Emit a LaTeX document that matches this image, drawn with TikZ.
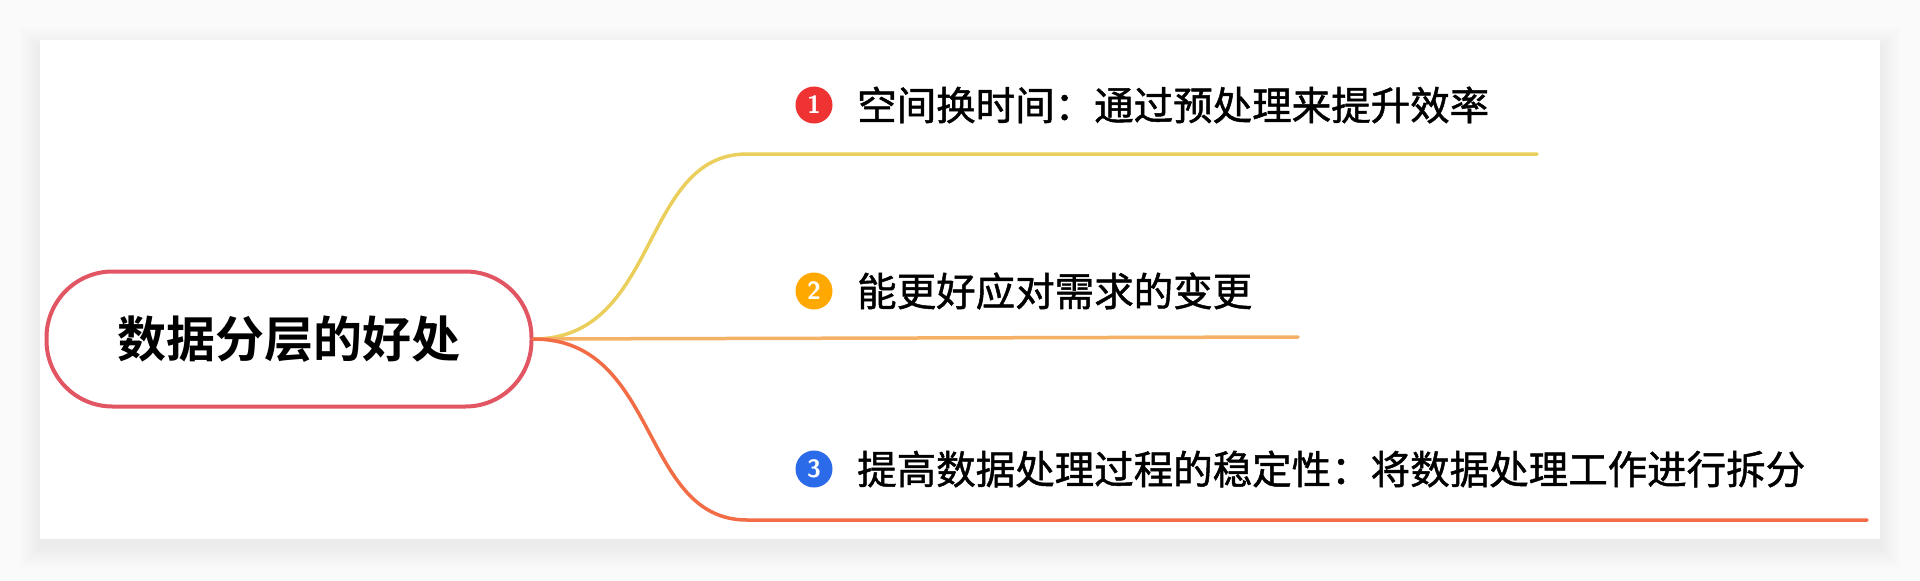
\documentclass[tikz,border=0pt]{standalone}
\usepackage{fontspec}
\newfontfamily\cjk[FakeBold=1.2]{Noto Sans CJK SC}
\newfontfamily\cjkb{Noto Sans CJK SC Bold}
\begin{document}
\begin{tikzpicture}[x=1pt,y=-1pt,
  lbl/.style={anchor=west,inner sep=0pt,font=\cjk\fontsize{39.5}{44}\selectfont},
  icon/.style={circle,inner sep=0pt,minimum size=37pt,text=white,font=\sffamily\bfseries\fontsize{25}{26}\selectfont},
  br/.style={line width=3.5pt,line cap=round}]
\definecolor{bgc}{HTML}{FAFAFA}
\definecolor{rootc}{HTML}{E25563}
\definecolor{yl}{HTML}{EBCF5C}
\definecolor{og}{HTML}{F5B266}
\definecolor{rd}{HTML}{F26D45}
\definecolor{ic1}{HTML}{EF3232}
\definecolor{ic2}{HTML}{FFA800}
\definecolor{ic3}{HTML}{2B6BEA}
\fill[bgc] (0,0) rectangle (1920,581);
\useasboundingbox (0,0) rectangle (1920,581);
\foreach \i in {20,17,...,2}{
  \fill[black,opacity=0.006] (40-\i,40-\i+8) rectangle (1880+\i,539+\i+8);}
\fill[white] (40,40) rectangle (1880,539);
\node[draw=rootc,line width=4pt,rounded corners=66pt,minimum width=485pt,minimum height=135pt,
  font=\cjkb\fontsize{49}{52}\selectfont] (root) at (289,339) {数据分层的好处};
\coordinate (e1) at (1537,154);
\coordinate (e2) at (1298,337);
\coordinate (e3) at (1867,520);
\coordinate (s1) at (747,154);
\coordinate (s3) at (747,520);
\draw[br,yl] (root.east) .. controls (660,339) and (640,154) .. (s1) -- (e1);
\draw[br,og] (root.east) -- (e2);
\draw[br,rd] (root.east) .. controls (660,339) and (640,520) .. (s3) -- (e3);
\node[icon,fill=ic1] (i1) at (814,105) {1};
\node[icon,fill=ic2] (i2) at (814,291) {2};
\node[icon,fill=ic3] (i3) at (814,469) {3};
\node[lbl] (t1) at (857,105) {空间换时间：通过预处理来提升效率};
\node[lbl] (t2) at (857,291) {能更好应对需求的变更};
\node[lbl] (t3) at (857,469) {提高数据处理过程的稳定性：将数据处理工作进行拆分};
\end{tikzpicture}
\end{document}
